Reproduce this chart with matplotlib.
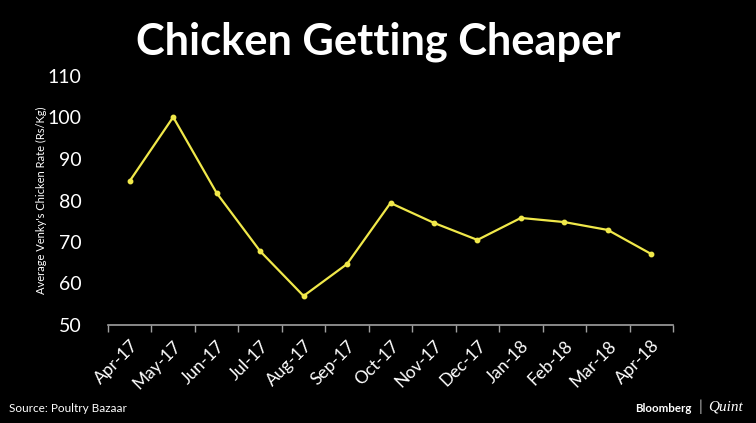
import matplotlib.pyplot as plt
import numpy as np

months = ["Apr-17", "May-17", "Jun-17", "Jul-17", "Aug-17", "Sep-17", "Oct-17",
          "Nov-17", "Dec-17", "Jan-18", "Feb-18", "Mar-18", "Apr-18"]
rate = [84.7, 100.1, 81.8, 67.8, 57.0, 64.7, 79.4, 74.6, 70.5, 75.8, 74.8, 72.9, 67.1]
yticks = [50, 60, 70, 80, 90, 100, 110]

plt.rcParams['font.family'] = ['Lato', 'DejaVu Sans']

fig = plt.figure(figsize=(7.56, 4.23), dpi=100, facecolor='black')
ax = fig.add_axes([108/756, 1 - 325/423, (673-108)/756, (325-76)/423])
ax.set_facecolor('black')

x = np.arange(len(months))
ax.plot(x, rate, color='#f0e84a', lw=1.6, marker='o', ms=3.2)

ax.set_xlim(-0.5, len(months) - 0.5)
ax.set_ylim(50, 110)
ax.set_yticks(yticks)
ax.set_yticklabels([str(v) for v in yticks], fontsize=14, color='white')
ax.tick_params(axis='y', length=0, pad=19)

# category boundaries as tick marks on the x axis
ax.set_xticks(np.arange(-0.5, len(months), 1.0), minor=False)
ax.set_xticklabels([])
ax.tick_params(axis='x', which='major', length=5, color='#a0a0a0', width=1)
ax.set_xticks(x, minor=True)
ax.set_xticklabels(months, minor=True, rotation=45, ha='right', rotation_mode='anchor',
                   fontsize=12.5, color='white')
ax.tick_params(axis='x', which='minor', length=0, pad=9)

for s in ['top', 'right', 'left']:
    ax.spines[s].set_visible(False)
ax.spines['bottom'].set_color('#a0a0a0')
ax.spines['bottom'].set_linewidth(1.2)

ax.set_ylabel("Average Venky's Chicken Rate (Rs/Kg)", color='white', fontsize=8)
ax.yaxis.set_label_coords(-0.108, 0.5)

fig.text(0.5, 1 - 42/423, "Chicken Getting Cheaper", ha='center', va='center',
         fontsize=31.2, fontweight='bold', color='white')
fig.text(9/756, 1 - 408/423, "Source: Poultry Bazaar", ha='left', va='center',
         fontsize=8.5, color='white')
fig.text(692/756, 1 - 408/423, "Bloomberg", ha='right', va='center',
         fontsize=8.3, fontweight='bold', color='white')
fig.text(700/756, 1 - 407/423, "|", ha='center', va='center', fontsize=11, color='#bbbbbb')
fig.text(708/756, 1 - 407/423, "Quint", ha='left', va='center',
         fontsize=11, style='italic', family='Liberation Serif', color='white')

fig.savefig("out.png", dpi=100, facecolor='black')
